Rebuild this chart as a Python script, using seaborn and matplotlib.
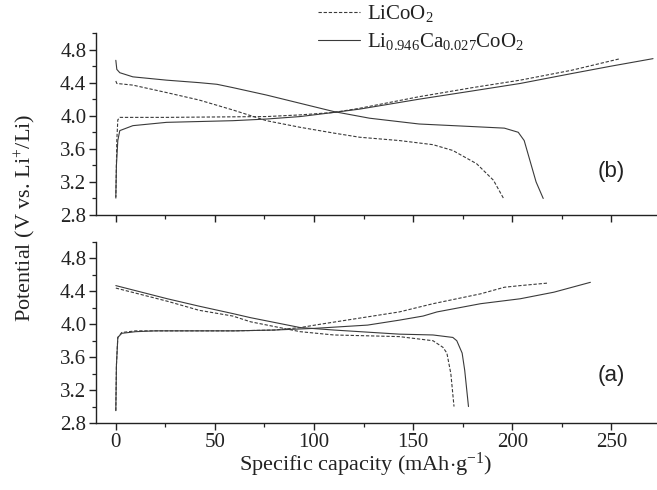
import numpy as np
import pandas as pd
import matplotlib
matplotlib.use("Agg")
import matplotlib.pyplot as plt
from matplotlib.lines import Line2D
from matplotlib.ticker import MultipleLocator
import seaborn as sns

# ---------------- data ----------------
# panel (b)
b_lco_chg_x = [0, 0.5, 1, 2, 25, 76, 93, 110, 123, 153, 180, 204, 230, 254.5]
b_lco_chg_y = [3.0, 3.7, 3.95, 3.98, 3.98, 3.99, 4.01, 4.04, 4.09, 4.23, 4.34, 4.43, 4.55, 4.69]
b_ca_chg_x = [0, 0.3, 1, 2, 8.6, 25.6, 59, 76, 93, 110, 123, 153, 180, 204, 230, 250, 271]
b_ca_chg_y = [3.02, 3.4, 3.7, 3.82, 3.88, 3.92, 3.94, 3.96, 3.99, 4.04, 4.08, 4.2, 4.3, 4.39, 4.51, 4.6, 4.69]
b_lco_dis_x = [0, 0.5, 8.6, 25.6, 42, 59, 76, 93, 110, 123, 143, 160, 170, 182, 190.5, 195.6]
b_lco_dis_y = [4.42, 4.39, 4.37, 4.28, 4.19, 4.07, 3.94, 3.86, 3.79, 3.74, 3.70, 3.65, 3.58, 3.42, 3.22, 3.0]
b_ca_dis_x = [0, 0.5, 2, 8.6, 25.6, 42, 51, 59, 76, 93, 110, 128, 153, 179, 196, 203, 206, 209, 212, 215.6]
b_ca_dis_y = [4.67, 4.56, 4.52, 4.47, 4.43, 4.40, 4.38, 4.34, 4.25, 4.15, 4.05, 3.97, 3.9, 3.87, 3.85, 3.8, 3.7, 3.45, 3.2, 3.0]

# panel (a)
a_lco_chg_x = [0, 0.3, 1, 3, 10, 20, 42, 60, 80, 93, 103, 127, 143, 160, 184, 196, 204, 217.6]
a_lco_chg_y = [2.95, 3.5, 3.84, 3.9, 3.92, 3.92, 3.92, 3.92, 3.93, 3.96, 4.0, 4.09, 4.15, 4.25, 4.37, 4.45, 4.47, 4.5]
a_ca_chg_x = [0, 0.3, 1, 3, 10, 20, 42, 60, 80, 100, 127, 143, 155, 162, 184, 204, 221, 239.4]
a_ca_chg_y = [2.95, 3.5, 3.84, 3.89, 3.91, 3.92, 3.92, 3.92, 3.93, 3.95, 3.99, 4.05, 4.1, 4.15, 4.25, 4.31, 4.39, 4.51]
a_lco_dis_x = [0, 26, 42, 59, 68, 93, 110, 143, 160, 165, 167, 169, 170.6]
a_lco_dis_y = [4.44, 4.28, 4.17, 4.10, 4.03, 3.91, 3.87, 3.85, 3.80, 3.72, 3.65, 3.4, 3.0]
a_ca_dis_x = [0, 26, 42, 59, 68, 93, 110, 143, 160, 170, 172, 174.7, 176, 177.9]
a_ca_dis_y = [4.47, 4.31, 4.22, 4.13, 4.08, 3.96, 3.93, 3.88, 3.87, 3.84, 3.8, 3.65, 3.44, 3.0]

labels = ["LiCoO$_2$", "Li$_{0.946}$Ca$_{0.027}$CoO$_2$"]
panel_labels = ["(a)", "(b)"]
x_ticks = [0, 50, 100, 150, 200, 250]
y_ticks = [2.8, 3.2, 3.6, 4.0, 4.4, 4.8]

# ---------------- style ----------------
sns.set_theme(style="ticks")
plt.rcParams["font.family"] = ["Liberation Serif", "DejaVu Serif"]
plt.rcParams["mathtext.fontset"] = "custom"
plt.rcParams["mathtext.rm"] = "Liberation Serif"
plt.rcParams["mathtext.it"] = "Liberation Serif:italic"
plt.rcParams["mathtext.bf"] = "Liberation Serif:bold"

line_color = "#3a3a3a"
text_color = "#222222"
dash = (3, 1.6)

fig = plt.figure(figsize=(6.57, 4.9), dpi=100)
ax_b = fig.add_axes([96 / 657, 1 - 215 / 490, 1 - 96 / 657, (215 - 33) / 490])
ax_a = fig.add_axes([96 / 657, 1 - 423 / 490, 1 - 96 / 657, (423 - 242) / 490])

def draw(ax, x, y, dashed):
    df = pd.DataFrame({"cap": x, "V": y})
    sns.lineplot(data=df, x="cap", y="V", sort=False, estimator=None, ax=ax,
                 color=line_color, linewidth=0.8)
    if dashed:
        ax.lines[-1].set_dashes(dash)

draw(ax_b, b_lco_chg_x, b_lco_chg_y, True)
draw(ax_b, b_lco_dis_x, b_lco_dis_y, True)
draw(ax_b, b_ca_chg_x, b_ca_chg_y, False)
draw(ax_b, b_ca_dis_x, b_ca_dis_y, False)

draw(ax_a, a_lco_chg_x, a_lco_chg_y, True)
draw(ax_a, a_lco_dis_x, a_lco_dis_y, True)
draw(ax_a, a_ca_chg_x, a_ca_chg_y, False)
draw(ax_a, a_ca_dis_x, a_ca_dis_y, False)

for ax in (ax_a, ax_b):
    ax.set_xlim(-10, 273)
    ax.set_ylim(2.8, 5.0)
    ax.set_xticks(x_ticks)
    ax.set_yticks(y_ticks)
    ax.xaxis.set_minor_locator(MultipleLocator(25))
    ax.yaxis.set_minor_locator(MultipleLocator(0.2))
    ax.set_xlabel("")
    ax.set_ylabel("")
    ax.patch.set_alpha(0)
    for s in ("top", "right"):
        ax.spines[s].set_visible(False)
    for s in ("left", "bottom"):
        ax.spines[s].set_linewidth(1.0)
        ax.spines[s].set_color(text_color)
    ax.tick_params(which="major", direction="out", length=5, width=1.0,
                   labelsize=15, colors=text_color, pad=2)
    ax.tick_params(which="minor", direction="out", length=3, width=0.9,
                   colors=text_color)
    ax.set_yticklabels([f"{t:.1f}" for t in y_ticks])

ax_b.tick_params(axis="x", labelbottom=False)
ax_a.set_xticklabels([str(t) for t in x_ticks])

ax_b.text(250, 3.33, panel_labels[1], fontsize=16, family="Liberation Sans",
          ha="center", va="center", color=text_color)
ax_a.text(250, 3.38, panel_labels[0], fontsize=16, family="Liberation Sans",
          ha="center", va="center", color=text_color)

fig.text(366 / 657, 1 - 465 / 490, "Specific capacity (mAh$\\cdot$g$^{-1}$)",
         ha="center", va="center", fontsize=16, color=text_color)
fig.text(25 / 657, 1 - 218 / 490, "Potential (V vs. Li$^{+}$/Li)", rotation=90,
         ha="center", va="center", fontsize=16, color=text_color)

handles = [Line2D([], [], color=line_color, lw=0.8, dashes=dash),
           Line2D([], [], color=line_color, lw=0.8)]
fig.legend(handles, labels, loc="upper left", bbox_to_anchor=(318 / 657, 1 - 3 / 490),
           frameon=False, fontsize=15, handlelength=2.0, handletextpad=0.35,
           labelspacing=0.35, borderpad=0, borderaxespad=0, labelcolor=text_color)

fig.savefig("out.png", dpi=100)
